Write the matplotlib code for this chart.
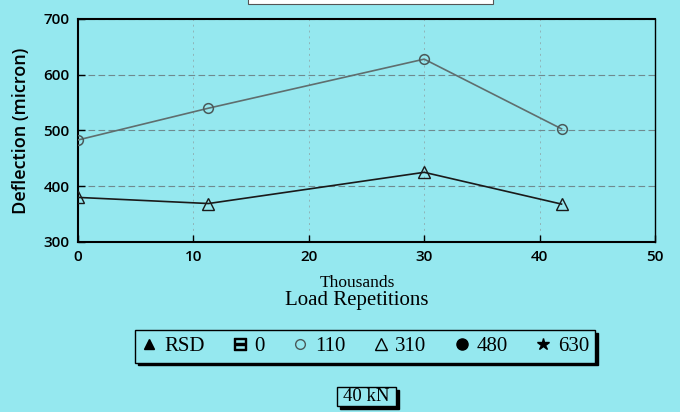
import matplotlib
matplotlib.use("Agg")
import matplotlib.pyplot as plt
from matplotlib.lines import Line2D
from matplotlib.patches import Rectangle

# Data
x_110 = [0, 11.3, 30, 41.9]
y_110 = [483, 540, 628, 503]
x_310 = [0, 11.3, 30, 41.9]
y_310 = [380, 369, 425, 368]
xticks = [0, 10, 20, 30, 40, 50]
yticks = [300, 400, 500, 600, 700]
legend_labels = ["RSD", "0", "110", "310", "480", "630"]

BG = "#95e8ef"
SERIF = ["Liberation Serif", "DejaVu Serif"]
SANS = ["Open Sans", "DejaVu Sans"]

fig = plt.figure(figsize=(6.8, 4.12), dpi=100)
fig.patch.set_facecolor(BG)
ax = fig.add_axes([78/680, 1-242/412, (655-78)/680, (242-19)/412])
ax.set_facecolor(BG)

ax.plot(x_110, y_110, color="#5f6e6e", lw=1.2, marker="o", ms=7,
        mfc="none", mec="#4a5a5a", mew=1.1, zorder=3)
ax.plot(x_310, y_310, color="#1a1a1a", lw=1.2, marker="^", ms=8,
        mfc="none", mec="#1a1a1a", mew=1.0, zorder=3)

ax.set_xlim(0, 50)
ax.set_ylim(300, 700)
ax.set_xticks(xticks)
ax.set_yticks(yticks)
ax.tick_params(direction="in", length=5, width=1, colors="black", labelsize=11)
for lab in ax.get_xticklabels() + ax.get_yticklabels():
    lab.set_family(SANS)
    lab.set_fontweight("semibold")
ax.tick_params(axis="y", pad=6)
ax.tick_params(axis="x", pad=6)

ax.yaxis.grid(True, ls=(0, (6, 3)), color="#6f8a8f", lw=0.8)
ax.xaxis.grid(True, ls=(0, (2, 4)), color="#8fb4b8", lw=0.7)
ax.set_axisbelow(True)
for s in ["left", "bottom", "top"]:
    ax.spines[s].set_linewidth(1.5)
ax.spines["right"].set_linewidth(1.0)

ax.set_ylabel("Deflection (micron)", family=SANS, fontsize=13,
              fontweight="semibold", labelpad=10)
fig.text(357/680, 1-283/412, "Thousands", family=SERIF, fontsize=12.5,
         ha="center", va="center")
fig.text(357/680, 1-300/412, "Load Repetitions", family=SERIF, fontsize=15,
         ha="center", va="center")

# Legend
handles = [
    Line2D([], [], ls="none", marker="^", ms=7, mfc="black", mec="black"),
    Line2D([], [], ls="none", marker="$\u229f$", ms=9, mfc="black", mec="black"),
    Line2D([], [], ls="none", marker="o", ms=7, mfc="none", mec="#4a5a5a"),
    Line2D([], [], ls="none", marker="^", ms=8, mfc="none", mec="black"),
    Line2D([], [], ls="none", marker="o", ms=8, mfc="black", mec="black"),
    Line2D([], [], ls="none", marker="*", ms=9, mfc="black", mec="black"),
]
leg = fig.legend(handles, legend_labels, ncol=6, loc="center",
                 bbox_to_anchor=(365/680, 1-346.5/412), frameon=True,
                 fancybox=False, shadow={"color": "black", "alpha": 1},
                 prop={"family": SERIF, "size": 15}, handlelength=0.8,
                 handletextpad=0.3, columnspacing=1.3, borderpad=0.3)
leg.get_frame().set_facecolor(BG)
leg.get_frame().set_edgecolor("black")
leg.get_frame().set_linewidth(1.0)
leg.get_frame().set_alpha(1)

# "40 kN" box
fig.patches.append(Rectangle((340/680, 1-409/412), 59/680, 19/412,
                             transform=fig.transFigure, facecolor="black",
                             edgecolor="black", zorder=1))
fig.patches.append(Rectangle((337/680, 1-406/412), 59/680, 19/412,
                             transform=fig.transFigure, facecolor=BG,
                             edgecolor="black", lw=1.0, zorder=2))
fig.text(366.5/680, 1-396.5/412, "40 kN", family=SERIF, fontsize=13.5,
         ha="center", va="center", zorder=3)

# Top cut-off white box
fig.patches.append(Rectangle((248/680, 1-4/412), (493-248)/680, 8/412,
                             transform=fig.transFigure, facecolor="white",
                             edgecolor="#555555", lw=0.8, zorder=1))

fig.savefig("out.png", dpi=100, facecolor=BG)
